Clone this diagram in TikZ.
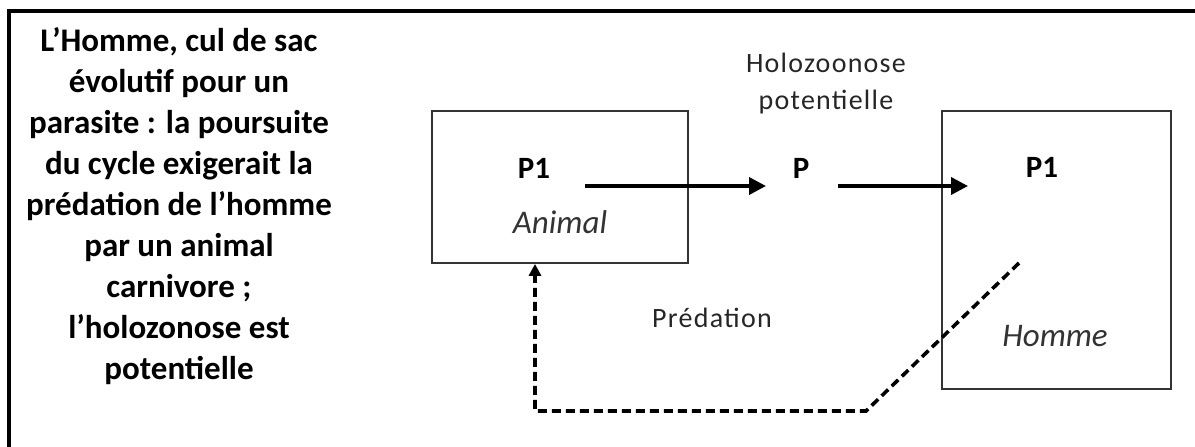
\documentclass[tikz,border=0pt]{standalone}
\usepackage{fontspec}
\setmainfont{Carlito}
\usetikzlibrary{arrows.meta}
\begin{document}
\begin{tikzpicture}[x=1pt,y=-1pt,
  frame/.style={line width=4pt,black},
  boxstyle/.style={draw=black!80,line width=1.8pt},
  flow/.style={line width=3.6pt,-{Triangle[length=17pt,width=17pt]}},
  back/.style={line width=3.6pt,dash pattern=on 9pt off 5pt,-{Triangle[length=12pt,width=12pt]}},
  lbl/.style={font=\fontsize{28}{37}\selectfont\addfontfeature{LetterSpace=4.5},inner sep=0pt,align=center,text=black!85},
  boldlbl/.style={font=\bfseries\fontsize{31}{31}\selectfont,inner sep=0pt},
  itlbl/.style={font=\itshape\fontsize{33}{33}\selectfont,inner sep=0pt,text=black!80},
  side/.style={font=\bfseries\fontsize{33}{41}\selectfont,inner sep=0pt,align=center}]
\useasboundingbox (0,0) rectangle (1195,447);
\fill[white] (0,0) rectangle (1195,447);
\draw[frame] (9,449) -- (9,11) -- (1197,11);
\node[side] (txt) at (179,206) {L'Homme, cul de sac\\évolutif pour un\\parasite : la poursuite\\du cycle exigerait la\\prédation de l'homme\\par un animal\\carnivore ;\\l'holozonose est\\potentielle};
\node[boxstyle,minimum width=256pt,minimum height=152pt] (animalbox) at (560,187) {};
\node[boxstyle,minimum width=229pt,minimum height=278pt] (hommebox) at (1056.5,250) {};
\node[boldlbl] (p1a) at (534,168) {P1};
\node[itlbl] (animal) at (560,222) {Animal};
\node[boldlbl] (p) at (801,168) {P};
\node[boldlbl] (p1b) at (1042,167) {P1};
\node[itlbl] (homme) at (1055,336) {Homme};
\node[lbl] (holo) at (826,84) {Holozoonose\\potentielle};
\node[lbl] (pred) at (712,318) {Prédation};
\coordinate (a1s) at (585,186);
\coordinate (a1e) at (766,186);
\coordinate (a2s) at (838,186);
\coordinate (a2e) at (968,186);
\coordinate (ds) at (1019,263);
\coordinate (dk) at (866,411);
\coordinate (dl) at (535,411);
\draw[flow] (a1s) -- (a1e);
\draw[flow] (a2s) -- (a2e);
\draw[back] (ds) -- (dk) -- (dl) -- (dl |- animalbox.south);
\end{tikzpicture}
\end{document}
